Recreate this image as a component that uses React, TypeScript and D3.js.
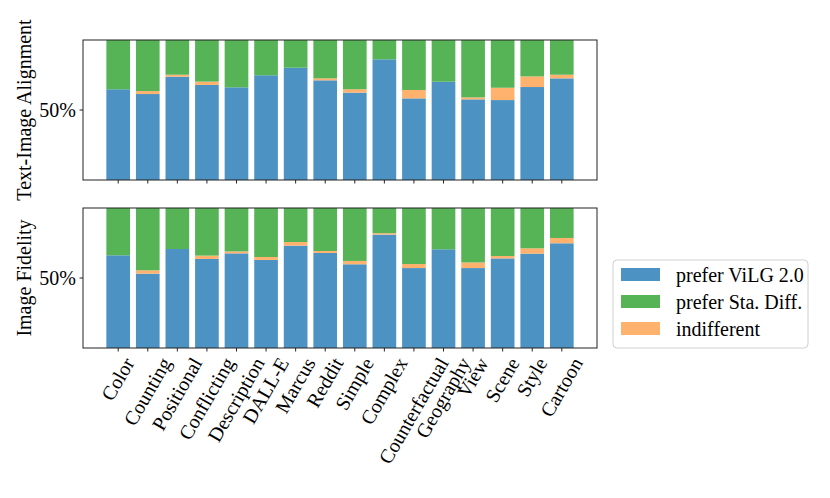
import React from 'react'
import * as d3 from 'd3'

const categories = ['Color', 'Counting', 'Positional', 'Conflicting', 'Description', 'DALL-E', 'Marcus', 'Reddit',
  'Simple', 'Complex', 'Counterfactual', 'Geography', 'View', 'Scene', 'Style', 'Cartoon']

// percentages per category
const alignVilg = [64.8, 61.4, 73.8, 67.9, 66.2, 74.8, 80.2, 71.2, 62.4, 86.2, 58.3, 70.2, 57.6, 57.1, 66.4, 72.6]
const alignTie = [0, 2.1, 1.4, 2.4, 0, 0, 0, 1.4, 2.4, 0, 6.0, 0, 1.4, 8.8, 7.6, 2.6]
const fidVilg = [66.2, 53.1, 70.7, 63.6, 67.6, 62.9, 73.1, 67.9, 59.8, 81.0, 57.1, 70.5, 57.1, 64.0, 67.4, 74.8]
const fidTie = [0, 2.4, 0, 2.4, 1.4, 2.1, 2.6, 1.4, 2.4, 1.0, 2.9, 0, 4.0, 1.7, 3.8, 3.8]

const seriesNames = ['prefer ViLG 2.0', 'prefer Sta. Diff.', 'indifferent']
const colors = ['#4c92c3', '#56b356', '#ffb26e']

const panels = [
  { label: 'Text-Image Alignment', vilg: alignVilg, tie: alignTie, top: 40, bottom: 180 },
  { label: 'Image Fidelity', vilg: fidVilg, tie: fidTie, top: 208, bottom: 348 },
]

const W = 830, H = 498
const FONT = '"Liberation Serif", "Times New Roman", serif'
const FS = 20

const measure = (() => {
  let ctx: CanvasRenderingContext2D | null = null
  return (s: string) => {
    if (!ctx) {
      ctx = document.createElement('canvas').getContext('2d')
      if (ctx) ctx.font = `${FS}px ${FONT}`
    }
    return ctx ? ctx.measureText(s).width : s.length * FS * 0.5
  }
})()

export default function App() {
  const x = d3.scaleLinear().domain([-1.19, 16.19]).range([83, 597])
  const bw = x(0.8) - x(0)
  const ang = Math.PI / 3

  return (
    <svg width={W} height={H} style={{ display: 'block', position: 'absolute', left: 0, top: 0 }} fontFamily={FONT}>
      <rect width={W} height={H} fill="white" />
      {panels.map((p, pi) => {
        const y = d3.scaleLinear().domain([0, 100]).range([p.bottom, p.top])
        const cy = (p.top + p.bottom) / 2
        return (
          <g key={pi}>
            {categories.map((c, i) => {
              const v = p.vilg[i], t = p.tie[i]
              const x0 = x(i) - bw / 2
              return (
                <g key={c}>
                  <rect x={x0} width={bw} y={y(v)} height={y(0) - y(v)} fill={colors[0]} />
                  {t > 0 && <rect x={x0} width={bw} y={y(v + t)} height={y(v) - y(v + t)} fill={colors[2]} />}
                  <rect x={x0} width={bw} y={y(100)} height={y(v + t) - y(100)} fill={colors[1]} />
                </g>
              )
            })}
            <rect x={x.range()[0]} y={p.top} width={x.range()[1] - x.range()[0]} height={p.bottom - p.top}
              fill="none" stroke="#222" strokeWidth={1} />
            {categories.map((c, i) => (
              <line key={c} x1={x(i)} x2={x(i)} y1={p.bottom} y2={p.bottom + 3.5} stroke="#222" />
            ))}
            <line x1={x.range()[0] - 3.5} x2={x.range()[0]} y1={y(50)} y2={y(50)} stroke="#222" />
            <text x={x.range()[0] - 7} y={y(50)} dy="0.35em" textAnchor="end" fontSize={FS}>50%</text>
            <text transform={`translate(31,${cy}) rotate(-90)`} textAnchor="middle" fontSize={FS}>{p.label}</text>
          </g>
        )
      })}
      {categories.map((c, i) => {
        const w = measure(c)
        const h = FS * 0.9
        const bh = w * Math.sin(ang) + h * Math.cos(ang)
        const top = panels[1].bottom + 7
        return (
          <text key={c} transform={`translate(${x(i)},${top + bh / 2}) rotate(-60)`} textAnchor="middle"
            dy="0.32em" fontSize={FS}>{c}</text>
        )
      })}
      <g>
        <rect x={613} y={260} width={195} height={88} rx={4} fill="white" stroke="#d0d0d0" />
        {seriesNames.map((s, i) => (
          <g key={s} transform={`translate(0,${268 + i * 27})`}>
            <rect x={621} y={0} width={39} height={13} fill={colors[i]} />
            <text x={676} y={6.5} dy="0.35em" fontSize={FS}>{s}</text>
          </g>
        ))}
      </g>
    </svg>
  )
}
